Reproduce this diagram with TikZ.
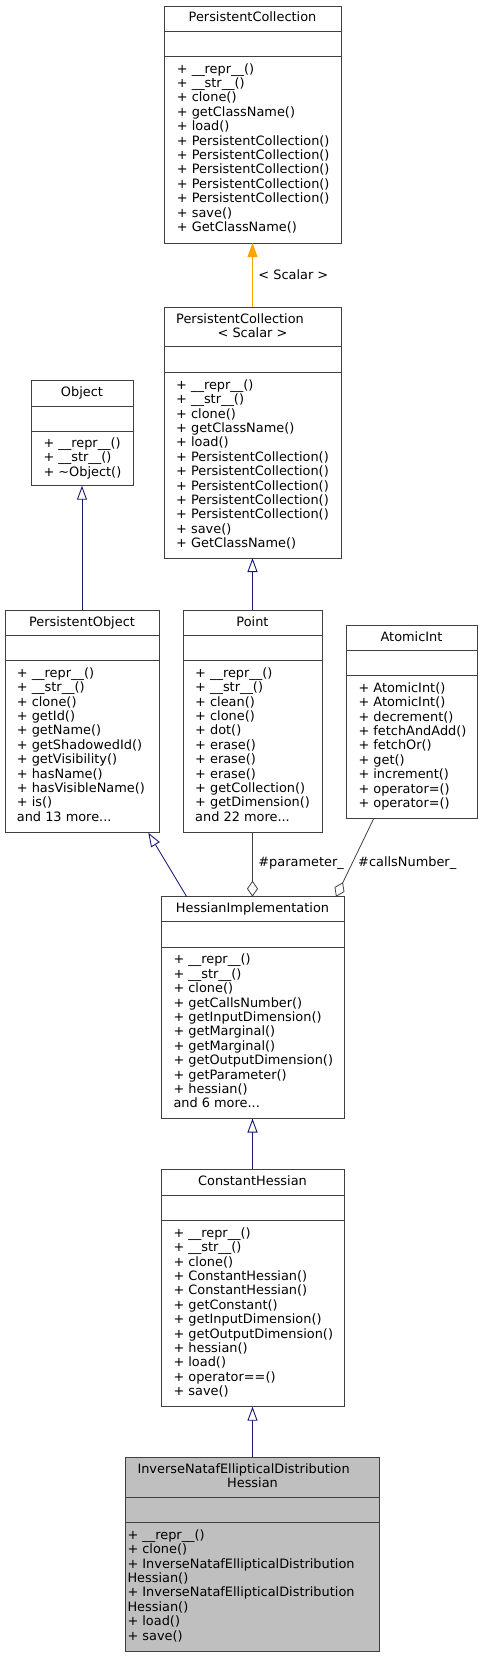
\documentclass[tikz,border=0pt]{standalone}
\usepackage{fontspec}
\setmainfont{DejaVu Sans}
\usetikzlibrary{arrows.meta}

\definecolor{edgeblue}{HTML}{191970}
\definecolor{edgeorange}{HTML}{FFA500}
\definecolor{edgegrey}{HTML}{404040}
\definecolor{boxline}{HTML}{404040}
\definecolor{boxgrey}{HTML}{BFBFBF}

\tikzset{
  classbox/.style={draw=boxline, line width=1pt, fill=white, inner sep=0pt, outer sep=0pt},
  sepline/.style={draw=boxline, line width=1pt},
  txt/.style={inner sep=0pt, font=\fontsize{12.9}{14.4}\selectfont},
  member/.style={txt, anchor=base west},
  title/.style={txt, anchor=base},
  elabel/.style={txt, anchor=west, xshift=5.5pt},
  inherit/.style={draw=edgeblue, line width=0.9pt, -{Triangle[open, length=14pt, width=10pt]}},
  templ/.style={draw=edgeorange, line width=0.9pt, -{Triangle[length=14pt, width=10pt]}},
  usage/.style={draw=edgegrey, line width=0.8pt, {Diamond[open, length=16pt, width=11pt]}-},
}

\begin{document}
\begin{tikzpicture}[x=1pt, y=-1pt]
  \useasboundingbox (0,0) rectangle (482,1657);

  % PersistentCollection
  \node[classbox, minimum width=177pt, minimum height=237pt] (pc) at (252.5,124.5) {};
  \draw[sepline] (pc.west |- 0,31.7) -- (pc.east |- 0,31.7);
  \draw[sepline] (pc.west |- 0,56) -- (pc.east |- 0,56);
  \node[title] (pc-t) at (252.5,21.7) {PersistentCollection};
  \foreach \m [count=\i from 0] in {+ \_\_repr\_\_(), + \_\_str\_\_(), + clone(), + getClassName(), + load(),
      + PersistentCollection(), + PersistentCollection(), + PersistentCollection(), + PersistentCollection(),
      + PersistentCollection(), + save(), + GetClassName()} {
    \node[member] (pc-m\i) at (176.7, {73+14.4*\i}) {\m};
  }

  % PersistentCollection< Scalar >
  \node[classbox, minimum width=177pt, minimum height=250.7pt] (pcs) at (252.5,432.65) {};
  \draw[sepline] (pcs.west |- 0,346.7) -- (pcs.east |- 0,346.7);
  \draw[sepline] (pcs.west |- 0,372.7) -- (pcs.east |- 0,372.7);
  \node[txt, anchor=base west] (pcs-t1) at (176,323.3) {PersistentCollection};
  \node[title] (pcs-t2) at (252.5,337.7) {< Scalar >};
  \foreach \m [count=\i from 0] in {+ \_\_repr\_\_(), + \_\_str\_\_(), + clone(), + getClassName(), + load(),
      + PersistentCollection(), + PersistentCollection(), + PersistentCollection(), + PersistentCollection(),
      + PersistentCollection(), + save(), + GetClassName()} {
    \node[member] (pcs-m\i) at (176, {389.2+14.4*\i}) {\m};
  }

  % Object
  \node[classbox, minimum width=102pt, minimum height=105pt] (obj) at (82,433.2) {};
  \draw[sepline] (obj.west |- 0,406) -- (obj.east |- 0,406);
  \draw[sepline] (obj.west |- 0,431) -- (obj.east |- 0,431);
  \node[title] (obj-t) at (82,396.7) {Object};
  \foreach \m [count=\i from 0] in {+ \_\_repr\_\_(), + \_\_str\_\_(), + \textasciitilde Object()} {
    \node[member] (obj-m\i) at (43.3, {447.5+14.4*\i}) {\m};
  }

  % PersistentObject
  \node[classbox, minimum width=154pt, minimum height=222.7pt] (po) at (82,721.35) {};
  \draw[sepline] (po.west |- 0,635) -- (po.east |- 0,635);
  \draw[sepline] (po.west |- 0,660.7) -- (po.east |- 0,660.7);
  \node[title] (po-t) at (82,626) {PersistentObject};
  \foreach \m [count=\i from 0] in {+ \_\_repr\_\_(), + \_\_str\_\_(), + clone(), + getId(), + getName(),
      + getShadowedId(), + getVisibility(), + hasName(), + hasVisibleName(), + is(), and 13 more.{}.{}.} {
    \node[member] (po-m\i) at (16.7, {677.2+14.4*\i}) {\m};
  }

  % Point
  \node[classbox, minimum width=139pt, minimum height=222.7pt] (pt) at (252.5,721.35) {};
  \draw[sepline] (pt.west |- 0,635) -- (pt.east |- 0,635);
  \draw[sepline] (pt.west |- 0,660.7) -- (pt.east |- 0,660.7);
  \node[title] (pt-t) at (252.5,626) {Point};
  \foreach \m [count=\i from 0] in {+ \_\_repr\_\_(), + \_\_str\_\_(), + clean(), + clone(), + dot(),
      + erase(), + erase(), + erase(), + getCollection(), + getDimension(), and 22 more.{}.{}.} {
    \node[member] (pt-m\i) at (195, {677.2+14.4*\i}) {\m};
  }

  % AtomicInt
  \node[classbox, minimum width=131pt, minimum height=193pt] (ai) at (411.5,721.5) {};
  \draw[sepline] (ai.west |- 0,650) -- (ai.east |- 0,650);
  \draw[sepline] (ai.west |- 0,675.7) -- (ai.east |- 0,675.7);
  \node[title] (ai-t) at (411.5,641) {AtomicInt};
  \foreach \m [count=\i from 0] in {+ AtomicInt(), + AtomicInt(), + decrement(), + fetchAndAdd(), + fetchOr(),
      + get(), + increment(), + operator=(), + operator=()} {
    \node[member] (ai-m\i) at (358.3, {692.2+14.4*\i}) {\m};
  }

  % HessianImplementation
  \node[classbox, minimum width=183pt, minimum height=221.8pt] (hi) at (252.5,1007.6) {};
  \draw[sepline] (hi.west |- 0,921) -- (hi.east |- 0,921);
  \draw[sepline] (hi.west |- 0,947.3) -- (hi.east |- 0,947.3);
  \node[title] (hi-t) at (252.5,912.7) {HessianImplementation};
  \foreach \m [count=\i from 0] in {+ \_\_repr\_\_(), + \_\_str\_\_(), + clone(), + getCallsNumber(),
      + getInputDimension(), + getMarginal(), + getMarginal(), + getOutputDimension(), + getParameter(),
      + hessian(), and 6 more.{}.{}.} {
    \node[member] (hi-m\i) at (173.3, {963.8+14.4*\i}) {\m};
  }

  % ConstantHessian
  \node[classbox, minimum width=183pt, minimum height=237.4pt] (ch) at (252.5,1288) {};
  \draw[sepline] (ch.west |- 0,1195) -- (ch.east |- 0,1195);
  \draw[sepline] (ch.west |- 0,1220.7) -- (ch.east |- 0,1220.7);
  \node[title] (ch-t) at (252.5,1185.3) {ConstantHessian};
  \foreach \m [count=\i from 0] in {+ \_\_repr\_\_(), + \_\_str\_\_(), + clone(), + ConstantHessian(),
      + ConstantHessian(), + getConstant(), + getInputDimension(), + getOutputDimension(), + hessian(),
      + load(), + operator==(), + save()} {
    \node[member] (ch-m\i) at (173.3, {1237.2+14.4*\i}) {\m};
  }

  % InverseNatafEllipticalDistributionHessian
  \node[classbox, fill=boxgrey, minimum width=253.6pt, minimum height=194.4pt] (inh) at (252.5,1554.5) {};
  \draw[sepline] (inh.west |- 0,1497.3) -- (inh.east |- 0,1497.3);
  \draw[sepline] (inh.west |- 0,1522.7) -- (inh.east |- 0,1522.7);
  \node[txt, anchor=base west] (inh-t1) at (137.3,1473.3) {InverseNatafEllipticalDistribution};
  \node[title] (inh-t2) at (252.5,1487.7) {Hessian};
  \foreach \m [count=\i from 0] in {+ \_\_repr\_\_(), + clone(), + InverseNatafEllipticalDistribution,
      Hessian(), + InverseNatafEllipticalDistribution, Hessian(), + load(), + save()} {
    \node[member] (inh-m\i) at (127.3, {1539.2+14.4*\i}) {\m};
  }

  % edges
  \draw[templ] (pcs.north) -- (pc.south) node[elabel, pos=0.5] (lbl-scalar) {< Scalar >};
  \draw[inherit] (po.north) -- (obj.south);
  \draw[inherit] (pt.north) -- (pcs.south);
  \draw[inherit] ([xshift=25.7pt]hi.north west) -- ([xshift=-10.7pt]po.south east);
  \draw[usage] (hi.north) -- (pt.south) node[elabel, pos=0.52] (lbl-param) {\#parameter\_};
  \draw[usage] ([xshift=-8pt]hi.north east) -- ([xshift=28pt]ai.south west)
    node[elabel, pos=0.43] (lbl-calls) {\#callsNumber\_};
  \draw[inherit] (ch.north) -- (hi.south);
  \draw[inherit] (inh.north) -- (ch.south);
\end{tikzpicture}
\end{document}
